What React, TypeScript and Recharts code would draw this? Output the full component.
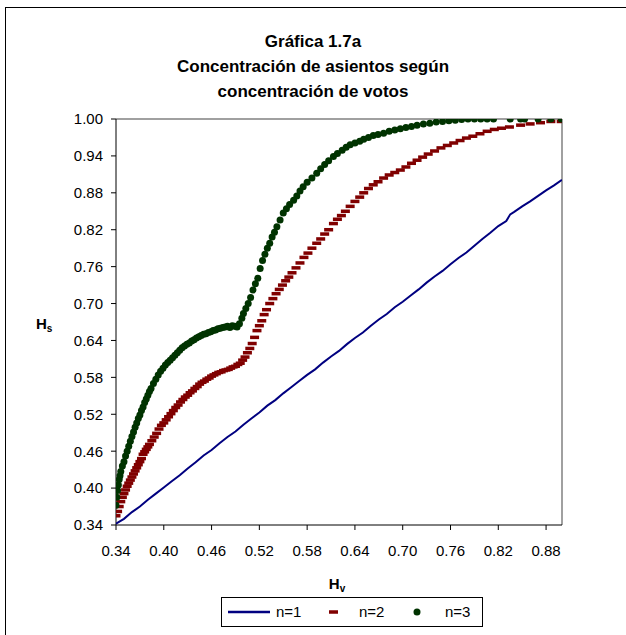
import React from "react";
import {
  ScatterChart,
  Scatter,
  XAxis,
  YAxis,
  ReferenceLine,
} from "recharts";

const FONT = '"Liberation Sans", Arial, Helvetica, sans-serif';

const TITLE_LINES = [
  "Gráfica 1.7a",
  "Concentración de asientos según",
  "concentración de votos",
];

const X_TICKS = [0.34, 0.4, 0.46, 0.52, 0.58, 0.64, 0.7, 0.76, 0.82, 0.88];
const Y_TICKS = [0.34, 0.4, 0.46, 0.52, 0.58, 0.64, 0.7, 0.76, 0.82, 0.88, 0.94, 1.0];

const SERIES_NAMES = ["n=1", "n=2", "n=3"];

// n=1 : Hs vs Hv (continuous line)
const N1: [number, number][] = [
  [0.34, 0.342], [0.35, 0.35], [0.36, 0.361], [0.37, 0.37], [0.38, 0.381],
  [0.39, 0.391], [0.4, 0.401], [0.41, 0.411], [0.42, 0.421], [0.43, 0.432],
  [0.44, 0.442], [0.45, 0.453], [0.46, 0.462], [0.47, 0.473], [0.48, 0.483],
  [0.49, 0.492], [0.5, 0.503], [0.51, 0.513], [0.52, 0.523], [0.53, 0.534],
  [0.54, 0.543], [0.55, 0.554], [0.56, 0.564], [0.57, 0.574], [0.58, 0.584],
  [0.59, 0.593], [0.6, 0.604], [0.61, 0.614], [0.62, 0.623], [0.63, 0.634],
  [0.64, 0.644], [0.65, 0.653], [0.66, 0.664], [0.67, 0.674], [0.68, 0.683],
  [0.69, 0.694], [0.7, 0.703], [0.71, 0.713], [0.72, 0.723], [0.73, 0.734],
  [0.74, 0.744], [0.75, 0.753], [0.76, 0.764], [0.77, 0.774], [0.78, 0.783],
  [0.79, 0.794], [0.8, 0.805], [0.81, 0.815], [0.82, 0.826], [0.83, 0.834],
  [0.835, 0.845], [0.84, 0.849], [0.85, 0.858], [0.86, 0.866], [0.87, 0.875],
  [0.88, 0.884], [0.89, 0.892], [0.9, 0.901],
];

// n=2 : dashes
const N2: [number, number][] = [
  [0.34, 0.355], [0.342, 0.362], [0.344, 0.37], [0.346, 0.378], [0.348, 0.385],
  [0.35, 0.391], [0.352, 0.397], [0.354, 0.403], [0.356, 0.408], [0.358, 0.413],
  [0.36, 0.418], [0.362, 0.423], [0.364, 0.428], [0.366, 0.433], [0.368, 0.438],
  [0.37, 0.443], [0.372, 0.448], [0.374, 0.455], [0.376, 0.459], [0.378, 0.463],
  [0.38, 0.467], [0.382, 0.471], [0.385, 0.477], [0.388, 0.483], [0.391, 0.489],
  [0.394, 0.496], [0.397, 0.502], [0.4, 0.506], [0.403, 0.511], [0.406, 0.516],
  [0.409, 0.521], [0.412, 0.526], [0.415, 0.531], [0.418, 0.535], [0.421, 0.54],
  [0.424, 0.544], [0.427, 0.548], [0.43, 0.551], [0.433, 0.555], [0.436, 0.558],
  [0.439, 0.562], [0.442, 0.565], [0.445, 0.569], [0.448, 0.572], [0.451, 0.574],
  [0.454, 0.577], [0.457, 0.579], [0.46, 0.582], [0.463, 0.584], [0.466, 0.586],
  [0.469, 0.588], [0.472, 0.589], [0.475, 0.591], [0.478, 0.592], [0.481, 0.593],
  [0.484, 0.595], [0.487, 0.597], [0.49, 0.598], [0.493, 0.601], [0.496, 0.603],
  [0.499, 0.608], [0.502, 0.613], [0.505, 0.62], [0.508, 0.627], [0.511, 0.635],
  [0.514, 0.645], [0.517, 0.656], [0.52, 0.664], [0.523, 0.672], [0.526, 0.682],
  [0.529, 0.69], [0.533, 0.7], [0.537, 0.708], [0.541, 0.716], [0.545, 0.723],
  [0.549, 0.73], [0.553, 0.737], [0.557, 0.743], [0.561, 0.75], [0.566, 0.758],
  [0.571, 0.766], [0.576, 0.775], [0.581, 0.782], [0.586, 0.79], [0.592, 0.798],
  [0.597, 0.805], [0.602, 0.813], [0.607, 0.82], [0.613, 0.83], [0.618, 0.837],
  [0.623, 0.843], [0.628, 0.85], [0.634, 0.858], [0.64, 0.866], [0.646, 0.873],
  [0.651, 0.88], [0.657, 0.887], [0.663, 0.893], [0.669, 0.898], [0.676, 0.904],
  [0.683, 0.909], [0.69, 0.913], [0.697, 0.917], [0.704, 0.922], [0.711, 0.928],
  [0.718, 0.933], [0.725, 0.938], [0.732, 0.943], [0.74, 0.948], [0.748, 0.953],
  [0.756, 0.957], [0.764, 0.961], [0.772, 0.965], [0.78, 0.969], [0.788, 0.972],
  [0.797, 0.976], [0.806, 0.98], [0.815, 0.983], [0.824, 0.985], [0.834, 0.987],
  [0.848, 0.99], [0.86, 0.992], [0.873, 0.994], [0.886, 0.996], [0.899, 0.996],
];

// n=3 : dots
const N3: [number, number][] = [
  [0.34, 0.372], [0.341, 0.385], [0.342, 0.396], [0.343, 0.405], [0.344, 0.414],
  [0.345, 0.42], [0.346, 0.427], [0.348, 0.436], [0.35, 0.443], [0.352, 0.452],
  [0.354, 0.46], [0.356, 0.468], [0.358, 0.476], [0.36, 0.484], [0.362, 0.491],
  [0.364, 0.499], [0.366, 0.506], [0.368, 0.513], [0.37, 0.519], [0.372, 0.526],
  [0.374, 0.532], [0.376, 0.539], [0.378, 0.545], [0.38, 0.551], [0.382, 0.557],
  [0.384, 0.562], [0.387, 0.57], [0.39, 0.577], [0.393, 0.584], [0.396, 0.59],
  [0.399, 0.595], [0.402, 0.6], [0.405, 0.604], [0.408, 0.608], [0.411, 0.612],
  [0.414, 0.616], [0.417, 0.62], [0.42, 0.624], [0.423, 0.628], [0.426, 0.631],
  [0.429, 0.634], [0.432, 0.636], [0.435, 0.639], [0.438, 0.641], [0.441, 0.644],
  [0.444, 0.646], [0.447, 0.648], [0.45, 0.65], [0.453, 0.651], [0.456, 0.653],
  [0.459, 0.654], [0.462, 0.656], [0.465, 0.657], [0.468, 0.659], [0.471, 0.66],
  [0.474, 0.661], [0.477, 0.662], [0.48, 0.663], [0.483, 0.661], [0.486, 0.664],
  [0.489, 0.663], [0.492, 0.662], [0.495, 0.667], [0.498, 0.676], [0.5, 0.684],
  [0.503, 0.692], [0.506, 0.7], [0.509, 0.71], [0.512, 0.722], [0.515, 0.732],
  [0.518, 0.741], [0.521, 0.757], [0.524, 0.77], [0.527, 0.78], [0.53, 0.79],
  [0.533, 0.798], [0.536, 0.808], [0.539, 0.816], [0.542, 0.825], [0.546, 0.836],
  [0.55, 0.847], [0.554, 0.854], [0.558, 0.861], [0.563, 0.868], [0.567, 0.875],
  [0.571, 0.883], [0.575, 0.89], [0.58, 0.897], [0.586, 0.904], [0.592, 0.912],
  [0.597, 0.919], [0.602, 0.926], [0.607, 0.932], [0.613, 0.939], [0.618, 0.944],
  [0.624, 0.949], [0.629, 0.954], [0.634, 0.958], [0.64, 0.961], [0.646, 0.964],
  [0.651, 0.967], [0.657, 0.97], [0.663, 0.973], [0.669, 0.975], [0.676, 0.977],
  [0.683, 0.98], [0.69, 0.982], [0.697, 0.984], [0.704, 0.986], [0.711, 0.988],
  [0.718, 0.99], [0.726, 0.992], [0.734, 0.993], [0.742, 0.995], [0.75, 0.996],
  [0.758, 0.997], [0.766, 0.998], [0.774, 0.999], [0.782, 1.0], [0.79, 1.0],
  [0.798, 1.0], [0.806, 1.0], [0.814, 1.0], [0.835, 1.0], [0.848, 1.0],
  [0.853, 1.0], [0.87, 1.0], [0.886, 1.0], [0.899, 1.0],
];

const COLORS = { n1: "#000080", n2: "#800000", n3: "#003300" };

const toPts = (arr: [number, number][]) => arr.map(([x, y]) => ({ x, y }));

const DashShape = (p: any) => (
  <rect x={p.cx - 4.5} y={p.cy - 1.75} width={9} height={3.5} fill={COLORS.n2} />
);
const DotShape = (p: any) => (
  <circle cx={p.cx} cy={p.cy} r={3.5} fill={COLORS.n3} />
);
const NoShape = () => <g />;

const XTitle = () => (
  <text x={337} y={589} textAnchor="middle" fontFamily={FONT} fontWeight="bold" fontSize={15} fill="#000">
    H<tspan fontSize={10} dy={3}>v</tspan>
  </text>
);
const YTitle = () => (
  <text x={36} y={329} textAnchor="start" fontFamily={FONT} fontWeight="bold" fontSize={15} fill="#000">
    H<tspan fontSize={10} dy={3}>s</tspan>
  </text>
);

const LegendBox = () => (
  <div
    style={{
      position: "absolute",
      left: 221,
      top: 597,
      width: 262,
      height: 30,
      border: "1px solid #000",
      boxSizing: "border-box",
      background: "#fff",
      fontFamily: FONT,
      fontSize: 15,
      color: "#000",
    }}
  >
    <svg width={262} height={30} style={{ position: "absolute", left: -1, top: -1 }}>
      <line x1={7} y1={15} x2={49} y2={15} stroke={COLORS.n1} strokeWidth={2.5} />
      <rect x={108} y={13.25} width={9} height={3.5} fill={COLORS.n2} />
      <circle cx={196} cy={15} r={3.5} fill={COLORS.n3} />
    </svg>
    <span style={{ position: "absolute", left: 54, top: 5, lineHeight: "17px" }}>{SERIES_NAMES[0]}</span>
    <span style={{ position: "absolute", left: 137, top: 5, lineHeight: "17px" }}>{SERIES_NAMES[1]}</span>
    <span style={{ position: "absolute", left: 223, top: 5, lineHeight: "17px" }}>{SERIES_NAMES[2]}</span>
  </div>
);

export default function App() {
  return (
    <div style={{ position: "absolute", left: 0, top: 0, width: 626, height: 635, overflow: "hidden", background: "#fff" }}>
      <div
        style={{
          position: "absolute",
          left: 5,
          top: 7,
          width: 700,
          height: 700,
          borderLeft: "1.5px solid #000",
          borderTop: "1.5px solid #000",
        }}
      />
      <div
        style={{
          position: "absolute",
          left: 0,
          top: 29,
          width: 626,
          textAlign: "center",
          fontFamily: FONT,
          fontWeight: "bold",
          fontSize: 17,
          lineHeight: "25px",
          color: "#000",
        }}
      >
        {TITLE_LINES.map((t) => (
          <div key={t}>{t}</div>
        ))}
      </div>
      <div style={{ position: "absolute", left: 0, top: 0 }}>
        <ScatterChart width={626} height={635} margin={{ top: 119, right: 64, bottom: 80, left: 56 }}>
          <XAxis
            type="number"
            dataKey="x"
            domain={[0.34, 0.9]}
            allowDataOverflow
            ticks={X_TICKS}
            tickFormatter={(v: number) => v.toFixed(2)}
            height={30}
            tickSize={5}
            tickMargin={15}
            stroke="#000"
            tick={{ fill: "#000", fontSize: 15, fontFamily: FONT }}
            label={<XTitle />}
          />
          <YAxis
            type="number"
            dataKey="y"
            domain={[0.34, 1.0]}
            allowDataOverflow
            ticks={Y_TICKS}
            tickFormatter={(v: number) => v.toFixed(2)}
            width={60}
            tickSize={5}
            tickMargin={8}
            stroke="#000"
            tick={{ fill: "#000", fontSize: 15, fontFamily: FONT }}
            label={<YTitle />}
          />
          <ReferenceLine y={1.0} stroke="#808080" strokeWidth={1.5} />
          <ReferenceLine x={0.9} stroke="#808080" strokeWidth={1.5} />
          <Scatter
            name={SERIES_NAMES[0]}
            data={toPts(N1)}
            line={{ stroke: COLORS.n1, strokeWidth: 2 }}
            lineType="joint"
            shape={NoShape}
            fill={COLORS.n1}
            isAnimationActive={false}
          />
          <Scatter
            name={SERIES_NAMES[1]}
            data={toPts(N2)}
            shape={DashShape}
            fill={COLORS.n2}
            isAnimationActive={false}
          />
          <Scatter
            name={SERIES_NAMES[2]}
            data={toPts(N3)}
            shape={DotShape}
            fill={COLORS.n3}
            isAnimationActive={false}
          />
        </ScatterChart>
      </div>
      <LegendBox />
    </div>
  );
}
